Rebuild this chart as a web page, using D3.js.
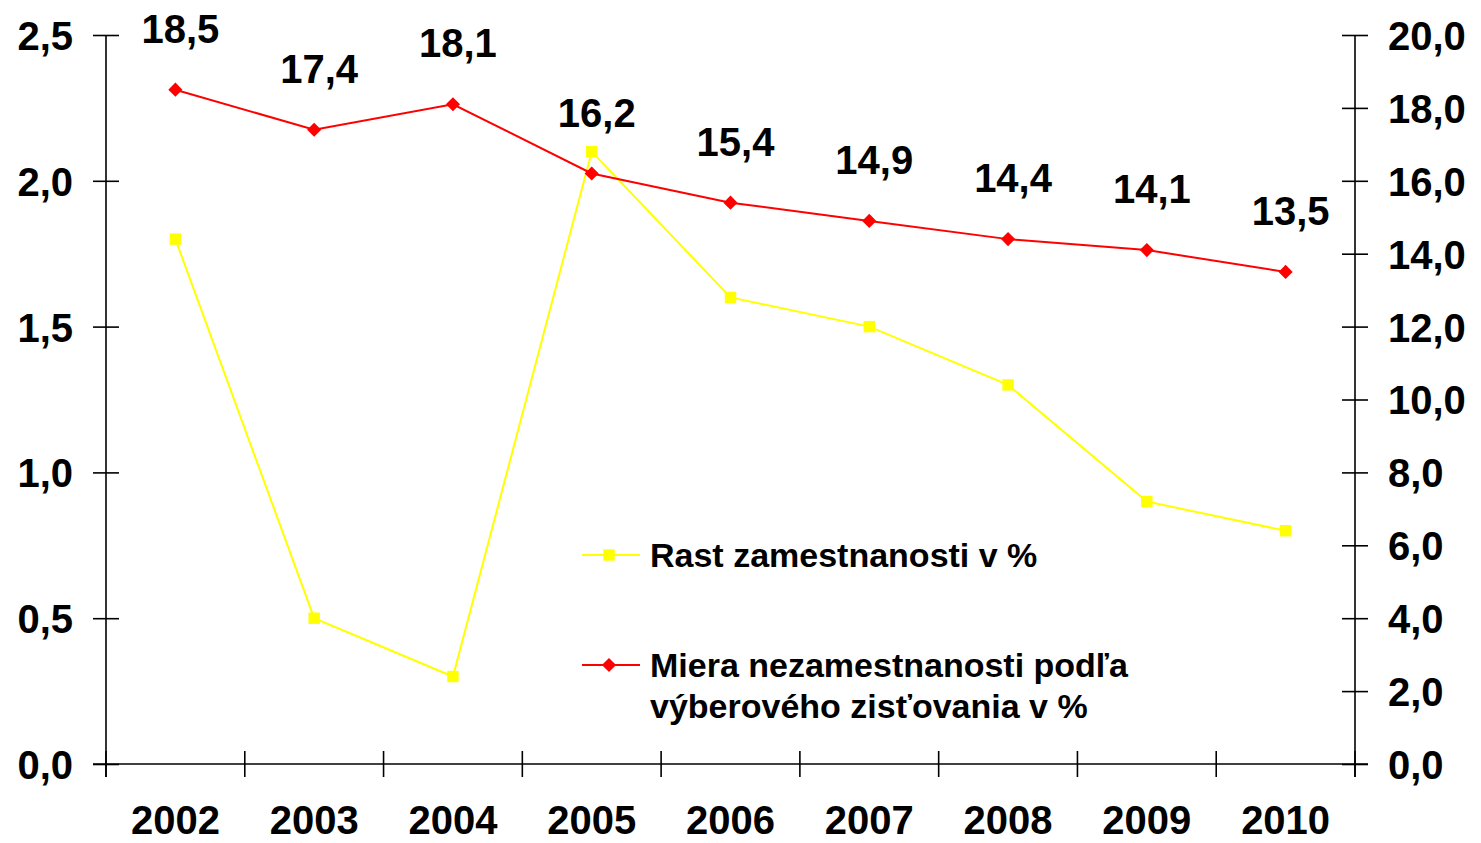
<!DOCTYPE html>
<html>
<head>
<meta charset="utf-8">
<script src="https://cdn.jsdelivr.net/npm/d3@7"></script>
<style>
  body { margin: 0; background: #fff; }
  svg text { font-family: "Liberation Sans", Arial, sans-serif; font-weight: bold; fill: #000; }
</style>
</head>
<body>
<div id="chart"></div>
<script>
// data
var years = ["2002", "2003", "2004", "2005", "2006", "2007", "2008", "2009", "2010"];
var employmentGrowth = [1.8, 0.5, 0.3, 2.1, 1.6, 1.5, 1.3, 0.9, 0.8];
var unemployment = [18.5, 17.4, 18.1, 16.2, 15.4, 14.9, 14.4, 14.1, 13.5];
var leftTicks = [0, 0.5, 1, 1.5, 2, 2.5];
var rightTicks = [0, 2, 4, 6, 8, 10, 12, 14, 16, 18, 20];
var legendLabels = [["Rast zamestnanosti v %"], ["Miera nezamestnanosti podľa", "výberového zisťovania v %"]];

var svgWidth = 1481, svgHeight = 843;
var margin = { top: 35, right: 126, bottom: 79, left: 106 };
var chartWidth = svgWidth - margin.left - margin.right;
var chartHeight = svgHeight - margin.top - margin.bottom;

var svg = d3.select("#chart").append("svg")
  .attr("width", svgWidth)
  .attr("height", svgHeight);

var chartGroup = svg.append("g")
  .attr("transform", `translate(${margin.left}, ${margin.top})`);

var xScale = d3.scaleBand().domain(years).range([0, chartWidth]).padding(0);
var yLeft = d3.scaleLinear().domain([0, 2.5]).range([chartHeight, 0]);
var yRight = d3.scaleLinear().domain([0, 20]).range([chartHeight, 0]);

var fmt = v => d3.format(".1f")(v).replace(".", ",");
var tick = 13;

// left axis
var gl = chartGroup.append("g")
  .call(d3.axisLeft(yLeft).tickValues(leftTicks).tickFormat(fmt).tickSizeInner(tick).tickSizeOuter(0).tickPadding(20));
gl.selectAll(".tick line").attr("x1", tick);

// right axis
var gr = chartGroup.append("g")
  .attr("transform", `translate(${chartWidth}, 0)`)
  .call(d3.axisRight(yRight).tickValues(rightTicks).tickFormat(fmt).tickSizeInner(tick).tickSizeOuter(0).tickPadding(20));
gr.selectAll(".tick line").attr("x1", -tick);

// bottom axis: labels at band centres, ticks at band edges
var gb = chartGroup.append("g")
  .attr("transform", `translate(0, ${chartHeight})`)
  .call(d3.axisBottom(xScale).tickSize(0).tickPadding(42));
gb.select(".domain").attr("d", `M${-tick},0H${chartWidth + tick}`);
gb.selectAll(".edge")
  .data(d3.range(years.length + 1))
  .enter().append("line")
  .attr("class", "edge")
  .attr("x1", i => i * xScale.step())
  .attr("x2", i => i * xScale.step())
  .attr("y1", -tick)
  .attr("y2", tick)
  .attr("stroke", "#000");
// extend vertical axes below baseline
gl.select(".domain").attr("d", `M0,0V${chartHeight + tick}`);
gr.select(".domain").attr("d", `M0,0V${chartHeight + tick}`);

[gl, gr, gb].forEach(g => {
  g.selectAll("text").style("font-size", "40px");
  g.selectAll("path, line").attr("stroke", "#000").attr("stroke-width", 1.6);
});
gl.selectAll(".tick text").attr("dy", "0.36em");
gr.selectAll(".tick text").attr("dy", "0.36em");

var cx = d => xScale(d) + xScale.bandwidth() / 2;

// yellow series
chartGroup.append("path")
  .datum(employmentGrowth)
  .attr("fill", "none")
  .attr("stroke", "#ffff00")
  .attr("stroke-width", 2)
  .attr("d", d3.line().x((d, i) => cx(years[i])).y(d => yLeft(d)));

chartGroup.selectAll(".sq")
  .data(employmentGrowth)
  .enter().append("path")
  .attr("class", "sq")
  .attr("transform", (d, i) => `translate(${cx(years[i])}, ${yLeft(d)})`)
  .attr("d", d3.symbol(d3.symbolSquare, 130))
  .attr("fill", "#ffff00");

// red series
chartGroup.append("path")
  .datum(unemployment)
  .attr("fill", "none")
  .attr("stroke", "#ff0000")
  .attr("stroke-width", 2)
  .attr("d", d3.line().x((d, i) => cx(years[i])).y(d => yRight(d)));

chartGroup.selectAll(".dm")
  .data(unemployment)
  .enter().append("path")
  .attr("class", "dm")
  .attr("transform", (d, i) => `translate(${cx(years[i])}, ${yRight(d)}) rotate(45)`)
  .attr("d", d3.symbol(d3.symbolSquare, 100))
  .attr("fill", "#ff0000");

chartGroup.selectAll(".lbl")
  .data(unemployment)
  .enter().append("text")
  .attr("class", "lbl")
  .attr("x", (d, i) => cx(years[i]) + 5)
  .attr("y", d => yRight(d) - 47)
  .attr("text-anchor", "middle")
  .style("font-size", "40px")
  .text(d => fmt(d));

// legend
var legend = svg.append("g").attr("transform", "translate(582, 555)");
var legendColors = ["#ffff00", "#ff0000"];
legendLabels.forEach((lines, i) => {
  var row = legend.append("g").attr("transform", `translate(0, ${i * 110})`);
  row.append("line").attr("x1", 0).attr("x2", 58).attr("y1", 0).attr("y2", 0)
    .attr("stroke", legendColors[i]).attr("stroke-width", 2);
  row.append("path")
    .attr("transform", `translate(27, 0)` + (i ? " rotate(45)" : ""))
    .attr("d", d3.symbol(d3.symbolSquare, i ? 100 : 130))
    .attr("fill", legendColors[i]);
  lines.forEach((t, j) => {
    row.append("text").attr("x", 68).attr("y", 12 + j * 41)
      .style("font-size", "34px").text(t);
  });
});
</script>
</body>
</html>
